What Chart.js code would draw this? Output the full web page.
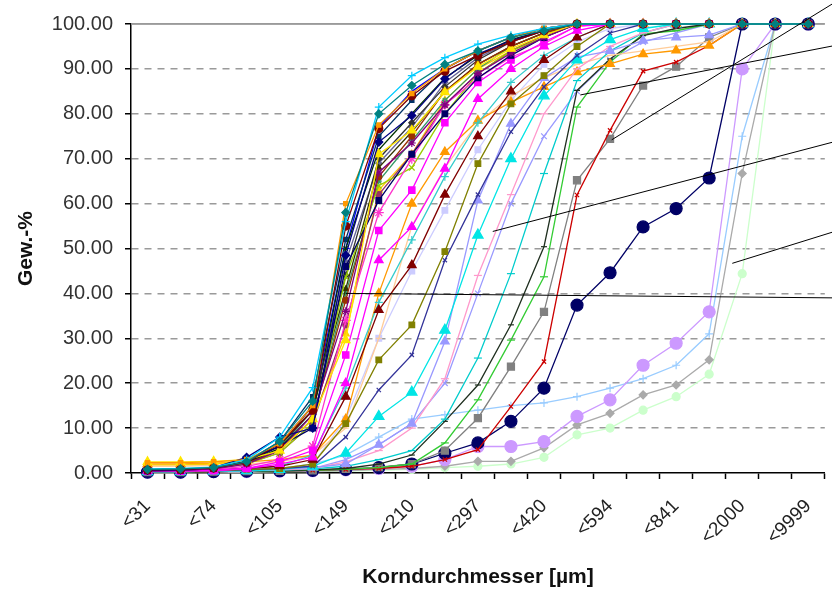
<!DOCTYPE html>
<html>
<head>
<meta charset="utf-8">
<script src="https://cdn.jsdelivr.net/npm/chart.js@4.4.1/dist/chart.umd.min.js"></script>
<style>
  html, body { margin: 0; padding: 0; background: #fff; }
  #wrap { width: 832px; height: 598px; }
</style>
</head>
<body>
<div id="wrap"><canvas id="sieveChart" width="832" height="598"></canvas></div>
<script>
// sieve classes - only every second class is labelled on the axis
const categories = ["<31", "", "<74", "", "<105", "", "<149", "", "<210", "", "<297",
                    "", "<420", "", "<594", "", "<841", "", "<2000", "", "<9999"];
const yTicks = [0, 10, 20, 30, 40, 50, 60, 70, 80, 90, 100];

// cumulative passing, Gew.-% (fine samples)
const p01 = [0.8, 0.9, 1.2, 2.5, 7, 16, 58, 80, 86.3, 91, 94, 97, 98.5, 100, 100, 100, 100, 100, 100, 100, 100];
const p02 = [0.9, 1, 1.3, 3, 8, 19, 56, 81.5, 88.5, 92.5, 95.5, 97.5, 99, 100, 100, 100, 100, 100, 100, 100, 100];
const p03 = [2.3, 2.3, 2.5, 3, 6.5, 15, 60, 77.5, 84.5, 90, 94, 97, 99, 100, 100, 100, 100, 100, 100, 100, 100];
const p04 = [0.7, 0.8, 1.1, 2.4, 6.5, 14, 55, 76.7, 84, 89.5, 93, 96, 98.5, 100, 100, 100, 100, 100, 100, 100, 100];
const p05 = [0.6, 0.7, 1.2, 3.5, 8, 10, 48.5, 73.7, 79.6, 87.8, 93.3, 96.3, 98.5, 100, 100, 100, 100, 100, 100, 100, 100];
const p06 = [2.5, 2.5, 2.6, 3, 5, 12, 29.6, 71, 76.3, 84.8, 90.5, 94.5, 97.5, 100, 100, 100, 100, 100, 100, 100, 100];
const p07 = [0.5, 0.6, 0.9, 2, 5, 13, 36, 67, 73.5, 82, 89, 93.5, 97, 100, 100, 100, 100, 100, 100, 100, 100];
const p08 = [0.5, 0.6, 1, 2.5, 6, 10, 46, 60.7, 71, 80, 88, 93, 97, 100, 100, 100, 100, 100, 100, 100, 100];
const p09 = [0.4, 0.4, 0.5, 1, 2.5, 5, 26.3, 54, 63, 78, 87, 92, 96, 99.5, 100, 100, 100, 100, 100, 100, 100];
const p10 = [0.5, 0.5, 0.6, 1, 2, 3.5, 20, 47.4, 54.8, 67.8, 83.3, 90, 95, 98.5, 100, 100, 100, 100, 100, 100, 100];
const p11 = [0.5, 0.6, 0.8, 1.5, 3, 6, 34, 58, 70, 82, 88, 92.6, 95.6, 99.6, 100, 100, 100, 100, 100, 100, 100];
const p12 = [0.6, 0.7, 1, 2, 4.5, 11, 43.7, 64, 68, 80, 89, 94, 97, 100, 100, 100, 100, 100, 100, 100, 100];
const p13 = [0.7, 0.8, 1.1, 2.2, 5, 12, 38.5, 66, 75, 85, 91, 95, 98, 100, 100, 100, 100, 100, 100, 100, 100];
const p14 = [0.7, 0.8, 1.1, 2.6, 6, 15, 44, 70, 78, 86, 92, 96, 98.5, 100, 100, 100, 100, 100, 100, 100, 100];
const p15 = [0.6, 0.7, 1, 2.2, 5.5, 13, 50, 72, 80, 88, 93, 96.5, 98.5, 100, 100, 100, 100, 100, 100, 100, 100];
const p16 = [0.6, 0.7, 1, 2.6, 7, 17, 52, 75, 83, 90, 94, 97, 99, 100, 100, 100, 100, 100, 100, 100, 100];
const p17 = [0.6, 0.7, 1, 2.3, 6, 14, 41, 68, 76, 85, 91, 95, 98, 100, 100, 100, 100, 100, 100, 100, 100];
const p18 = [0.6, 0.7, 1, 2.4, 6.5, 15, 50, 77, 85, 90, 94, 97, 99, 100, 100, 100, 100, 100, 100, 100, 100];
const p19 = [0.6, 0.7, 1, 2.2, 5, 12, 40, 65, 74, 83, 90, 95, 98, 100, 100, 100, 100, 100, 100, 100, 100];
const p20 = [0.6, 0.7, 1, 2.1, 4.5, 11, 33, 62, 71, 82, 89, 94, 97.5, 100, 100, 100, 100, 100, 100, 100, 100];
const p21 = [0.6, 0.7, 1, 2.3, 5.5, 14, 47, 69, 77, 87, 92.5, 96, 98.5, 100, 100, 100, 100, 100, 100, 100, 100];
const p22 = [1.8, 1.8, 2, 2.8, 5, 12, 31, 63, 71, 83, 90, 94, 97.5, 100, 100, 100, 100, 100, 100, 100, 100];
// medium samples
const p23 = [0.5, 0.5, 0.7, 1, 1.5, 3, 17, 36.3, 46.3, 62, 75, 85, 92, 97, 100, 100, 100, 100, 100, 100, 100];
const p24 = [0.5, 0.5, 0.7, 1, 1.5, 4, 18.9, 38, 51.9, 66, 78, 87, 93, 97, 100, 100, 100, 100, 100, 100, 100];
const p25 = [0.4, 0.4, 0.5, 0.8, 1, 2, 11, 25.2, 33, 49.3, 68.9, 82.2, 88.5, 95, 100, 100, 100, 100, 100, 100, 100];
const p26 = [0.4, 0.4, 0.5, 0.7, 1, 1.5, 8, 18.5, 26.3, 47.4, 62, 76, 86, 93, 98, 100, 100, 100, 100, 100, 100];
const p27 = [0.3, 0.3, 0.4, 0.5, 0.8, 1.5, 4.4, 12.6, 18, 31.8, 53, 70, 84, 92, 96.5, 99, 100, 100, 100, 100, 100];
const p28 = [0.3, 0.3, 0.4, 0.5, 0.8, 1.2, 2, 6.3, 11, 29.3, 60.7, 77.8, 88, 92.6, 94, 96.3, 97, 97.5, 100, 100, 100];
const p29 = [0.3, 0.3, 0.4, 0.5, 0.7, 1, 2.5, 5, 10, 21, 44, 62, 80, 90, 95, 98, 100, 100, 100, 100, 100];
const p30 = [0.3, 0.3, 0.4, 0.5, 0.6, 0.9, 1.5, 3, 5, 12, 25.6, 44.4, 66.7, 87.4, 94, 98, 100, 100, 100, 100, 100];
const p31 = [2, 2, 2.2, 2.5, 3, 4, 12, 40, 60, 71.5, 78.5, 82.6, 86, 89.3, 91.1, 93.3, 94.1, 95.2, 100, 100, 100];
const p32 = [1.5, 1.5, 1.7, 2, 2.5, 4, 10, 30, 55, 68, 78, 84, 88, 91, 93, 94, 95, 96, 100, 100, 100];
const p33 = [0.4, 0.4, 0.5, 0.7, 1, 2, 12, 30, 45, 58.5, 72, 83, 91, 96, 99, 100, 100, 100, 100, 100, 100];
// coarse samples
const p34 = [0.2, 0.2, 0.3, 0.4, 0.5, 0.7, 1, 2, 4, 11.5, 19.6, 33, 50.4, 85.2, 92.2, 97.4, 99, 100, 100, 100, 100];
const p35 = [0.2, 0.2, 0.3, 0.4, 0.5, 0.6, 0.8, 1.2, 2, 6.7, 16.3, 29.6, 43.7, 81.5, 91.5, 97.8, 98.5, 100, 100, 100, 100];
const p36 = [0.2, 0.2, 0.3, 0.4, 0.5, 0.6, 0.8, 1, 1.5, 3, 5.2, 14.8, 24.8, 61.9, 76.3, 89.5, 91.5, 95.2, 100, 100, 100];
const p37 = [0.2, 0.2, 0.3, 0.4, 0.5, 0.6, 0.9, 1.3, 2, 5, 12.2, 23.7, 35.9, 65.2, 74.4, 86.3, 90.5, 97, 100, 100, 100];
const p38 = [0.2, 0.2, 0.3, 0.4, 0.5, 0.6, 0.8, 1.2, 2, 4.4, 6.7, 11.5, 18.9, 37.4, 44.6, 54.8, 58.9, 65.7, 100, 100, 100];
const p39 = [0.2, 0.2, 0.3, 0.3, 0.4, 0.5, 0.7, 1, 1.5, 3, 5.9, 5.9, 7, 12.6, 16.3, 24, 28.9, 35.9, 90, 100, 100];
const p40 = [0.1, 0.1, 0.2, 0.3, 0.3, 0.4, 0.5, 0.8, 1, 1.5, 2.6, 2.6, 5.6, 10.7, 13.3, 17.4, 19.6, 25.2, 66.7, 100, 100];
const p41 = [0.1, 0.1, 0.2, 0.2, 0.3, 0.3, 0.4, 0.6, 0.8, 1.2, 1.5, 2, 3.5, 8.5, 10, 14, 17, 22, 44.4, 100, 100];
const p42 = [0.3, 0.3, 0.4, 0.5, 1, 2, 4, 8, 12, 13, 14, 15, 15.6, 17, 18.9, 21, 24, 31, 75, 100, 100];
const p43 = [0.3, 0.3, 0.4, 0.5, 0.7, 1, 3, 6.3, 11, 20, 40, 60, 75, 85, 92, 96, 98, 100, 100, 100, 100];

const allSeries = [p01, p02, p03, p04, p05, p06, p07, p08, p09, p10, p11, p12, p13, p14, p15,
  p16, p17, p18, p19, p20, p21, p22, p23, p24, p25, p26, p27, p28, p29, p30, p31, p32, p33,
  p34, p35, p36, p37, p38, p39, p40, p41, p42, p43];

// call-out lines: [category index, Gew.-%] start and end
const leaderStart = [[13.1, 84.2], [14.05, 74.2], [10.45, 53.8], [17.7, 46.7], [6.0, 40.0]];
const leaderEnd = [[20.8, 95.2], [20.8, 104.8], [20.8, 73.8], [20.8, 53.8], [20.8, 39.0]];

// look of each series: colour, marker, marker radius
const looks = [
  ["#008080", "rectRot", 4], ["#00CCFF", "cross", 4], ["#FF9900", "rect", 3], ["#800000", "circle", 4],
  ["#000080", "rectRot", 4], ["#FFE600", "triangle", 5], ["#800080", "star", 4], ["#000066", "rect", 4],
  ["#FF00FF", "rect", 4.5], ["#FF00FF", "triangle", 5], ["#FF33CC", "star", 5], ["#99CC00", "crossRot", 4],
  ["#993300", "circle", 3], ["#333333", "rectRot", 3], ["#003300", "crossRot", 3], ["#003366", "rect", 3],
  ["#333300", "triangle", 3], ["#0000FF", "line", 4], ["#339966", "star", 3], ["#993366", "circle", 3],
  ["#666699", "rectRot", 3], ["#FFCC00", "triangle", 4],
  ["#800000", "triangle", 5], ["#33CCCC", "cross", 4], ["#808000", "rect", 4], ["#333399", "crossRot", 3],
  ["#00E5E5", "triangle", 6], ["#9999FF", "triangle", 5], ["#FF99CC", "line", 4], ["#00CCCC", "line", 4],
  ["#FF9900", "triangle", 5], ["#FFCC99", "line", 3], ["#CCCCFF", "rect", 4],
  ["#1F2F1F", "line", 3], ["#33CC33", "line", 4], ["#CC0000", "crossRot", 3], ["#808080", "rect", 5],
  ["#000066", "circle", 6], ["#CC99FF", "circle", 6], ["#AAAAAA", "rectRot", 4], ["#CCFFCC", "circle", 4],
  ["#99CCFF", "cross", 4], ["#9999FF", "crossRot", 4]
];

const fontFamily = "'Liberation Sans', Arial, sans-serif";

const datasets = allSeries.map((values, i) => ({
  label: "Probe " + (i + 1),
  data: values,
  borderColor: looks[i][0],
  backgroundColor: looks[i][0],
  pointStyle: looks[i][1],
  pointRadius: looks[i][2],
  pointBorderWidth: 1.2,
  borderWidth: 1.3,
  tension: 0,
  clip: false
}));

const leaderPlugin = {
  id: "leaders",
  beforeDatasetsDraw(chart) {
    const { ctx, chartArea } = chart;
    ctx.save();
    ctx.strokeStyle = "#9a9a9a";
    ctx.lineWidth = 1.5;
    ctx.beginPath();
    ctx.moveTo(chartArea.left, chartArea.top);
    ctx.lineTo(chartArea.right, chartArea.top);
    ctx.stroke();
    ctx.restore();
  },
  afterDatasetsDraw(chart) {
    const { ctx, scales: { x, y } } = chart;
    ctx.save();
    ctx.strokeStyle = "#000";
    ctx.lineWidth = 1;
    leaderStart.forEach((p, k) => {
      const q = leaderEnd[k];
      ctx.beginPath();
      ctx.moveTo(x.getPixelForValue(p[0]), y.getPixelForValue(p[1]));
      ctx.lineTo(x.getPixelForValue(q[0]), y.getPixelForValue(q[1]));
      ctx.stroke();
    });
    ctx.restore();
  }
};

new Chart(document.getElementById("sieveChart"), {
  type: "line",
  data: { labels: categories, datasets: datasets },
  options: {
    responsive: false,
    animation: false,
    layout: { padding: { top: 22, right: 4, left: 0, bottom: 0 } },
    plugins: { legend: { display: false }, tooltip: { enabled: false } },
    scales: {
      x: {
        offset: true,
        grid: { drawOnChartArea: false, offset: true, tickLength: 6, tickColor: "#000", tickWidth: 1.5 },
        border: { color: "#000", width: 1.5 },
        ticks: {
          autoSkip: false, minRotation: 45, maxRotation: 45, padding: 16,
          color: "#222", font: { family: fontFamily, size: 19 }
        },
        title: {
          display: true, text: "Korndurchmesser [µm]", color: "#111",
          font: { family: fontFamily, size: 21, weight: "bold" },
          padding: { top: 0, bottom: 8 }
        },
        afterFit: (s) => { s.height = 125; s.paddingLeft = 0; s.paddingRight = 0; }
      },
      y: {
        min: 0, max: 100,
        afterBuildTicks: (s) => { s.ticks = yTicks.map(v => ({ value: v })); },
        ticks: {
          padding: 12, color: "#333",
          font: { family: fontFamily, size: 20 },
          callback: (v) => Number(v).toFixed(2)
        },
        grid: {
          color: (c) => (c.tick && c.tick.value === 0) ? "rgba(0,0,0,0)" : "#9a9a9a",
          lineWidth: 1.5, tickLength: 6, tickColor: "#000", tickWidth: 1.5
        },
        border: {
          color: "#000", width: 1.5,
          dash: (c) => (c.tick && c.tick.value === 100) ? [] : [7, 6]
        },
        title: {
          display: true, text: "Gew.-%", color: "#111",
          font: { family: fontFamily, size: 21, weight: "bold" },
          padding: { top: 14, bottom: 0 }
        },
        afterFit: (s) => { s.width = 131; }
      }
    }
  },
  plugins: [leaderPlugin]
});
</script>
</body>
</html>
